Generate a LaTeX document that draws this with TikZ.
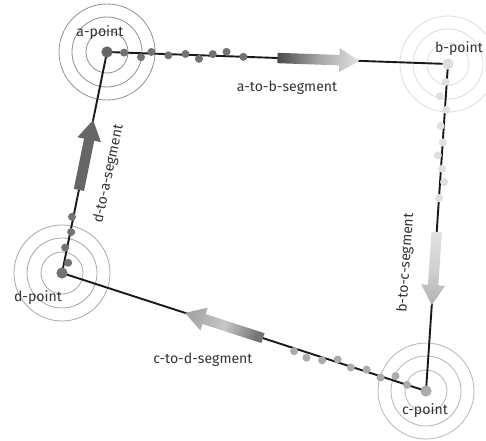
\documentclass[tikz,border=0pt]{standalone}
\usepackage{fontspec}
\setmainfont{Fira Sans}
\usetikzlibrary{calc,positioning}

\begin{document}
\begin{tikzpicture}[x=1cm,y=1cm]
\tikzset{
  segline/.style={draw=black!90,line width=1.35pt,line cap=round},
  ringline/.style={line width=0.6pt},
  pointlabel/.style={font=\fontsize{10}{12}\selectfont,text=black!80,inner sep=1pt},
  seglabel/.style={font=\fontsize{10}{12}\selectfont,text=black!80,inner sep=1pt}
}
\useasboundingbox (0,0) rectangle (12.15,11.025);
\coordinate (a) at (2.675,9.725);
\coordinate (b) at (11.20,9.425);
\coordinate (c) at (10.65,1.25);
\coordinate (d) at (1.55,4.20);
% rings round the points
\foreach \p/\col in {a/black!42,b/black!13,c/black!28,d/black!33}
  \foreach \r in {0.525,0.875,1.2}
    \draw[ringline,draw=\col] (\p) circle (\r);
\draw[segline] (a) -- (b);
\draw[segline] (b) -- (c);
\draw[segline] (c) -- (d);
\draw[segline] (d) -- (a);
% dots trailing each point
\foreach \t/\o in {0.05/0,0.10/-0.1,0.13/0.04,0.18/-0.03,0.23/0.02,0.27/-0.09,0.31/0.04,0.35/0.11,0.40/0}
  \fill[black!55] ($(a)!\t!(b)!\o cm!90:(b)$) circle (0.1);
\foreach \t/\o in {0.055/-0.03,0.10/-0.15,0.14/0.03,0.19/-0.08,0.24/0,0.28/-0.1,0.32/0.03,0.36/0.1,0.41/0}
  \fill[black!12] ($(b)!\t!(c)!\o cm!90:(c)$) circle (0.1);
\foreach \t/\o in {0.052/0,0.088/-0.12,0.124/0.03,0.165/-0.05,0.206/0.02,0.245/-0.07,0.283/0.07,0.324/0.13,0.36/0.07}
  \fill[black!33] ($(c)!\t!(d)!\o cm!90:(d)$) circle (0.1);
\foreach \t/\o in {0.05/-0.1,0.113/0.05,0.186/-0.02,0.253/0.035}
  \fill[black!55] ($(d)!\t!(a)!\o cm!90:(a)$) circle (0.1);
% point dots
\fill[black!60] (a) circle (0.14);
\fill[black!13] (b) circle (0.14);
\fill[black!33] (c) circle (0.14);
\fill[black!55] (d) circle (0.14);
% shaded arrows on the segments
\foreach \p/\q/\ta/\tb/\ca/\cm/\cb/\ang in {
    a/b/0.50/0.74/black!70/black!35/black!12/88,
    b/c/0.514/0.737/black!12/black!18/black!30/-3.8,
    c/d/0.448/0.662/black!55/black!22/black!35/252,
    d/a/0.376/0.692/black!60/black!60/black!60/168.5}
{
  \coordinate (tl) at ($(\p)!\ta!(\q)$);
  \coordinate (tp) at ($(\p)!\tb!(\q)$);
  \coordinate (hb) at ($(tp)!0.5cm!(tl)$);
  \shade[left color=\ca,right color=\cb,middle color=\cm,shading angle=\ang]
    ($(tl)!0.13cm!90:(tp)$) -- ($(hb)!0.13cm!90:(tp)$) -- ($(hb)!0.3cm!90:(tp)$) -- (tp)
    -- ($(hb)!0.3cm!-90:(tp)$) -- ($(hb)!0.13cm!-90:(tp)$) -- ($(tl)!0.13cm!-90:(tp)$) -- cycle;
}
\node[pointlabel] (l_a) at (2.50,10.20) {a-point};
\node[pointlabel] (l_b) at (11.475,9.80) {b-point};
\node[pointlabel] (l_c) at (10.625,0.75) {c-point};
\node[pointlabel] (l_d) at (0.95,3.575) {d-point};
\node[seglabel] (l_ab) at (7.175,8.825) {a-to-b-segment};
\node[seglabel,rotate=86] (l_bc) at (10.15,4.45) {b-to-c-segment};
\node[seglabel] (l_cd) at (5.075,2.025) {c-to-d-segment};
\node[seglabel,rotate=78] (l_da) at (2.72,6.675) {d-to-a-segment};
\end{tikzpicture}
\end{document}
